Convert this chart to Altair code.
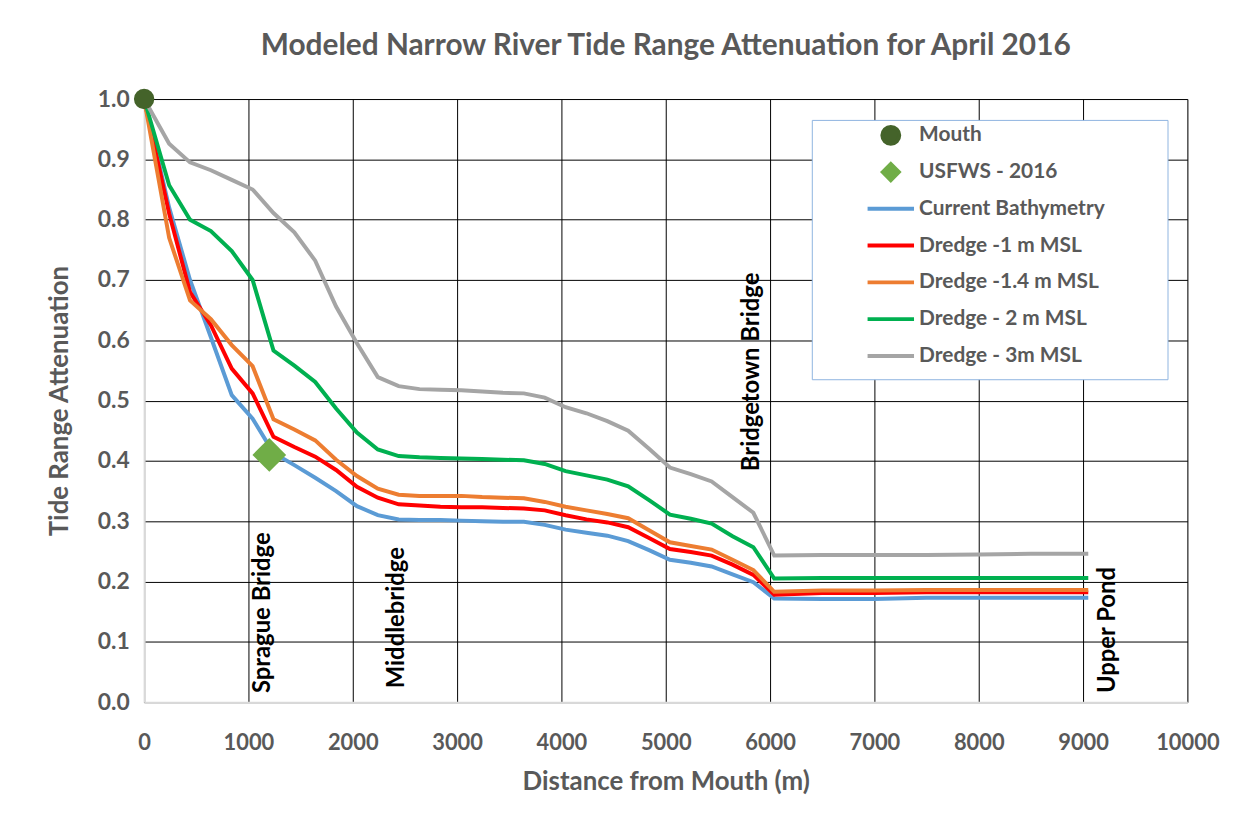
import altair as alt
import pandas as pd

# ---------------- data ----------------
distance = [0, 240, 440, 640, 840, 1040, 1240, 1440, 1640, 1840,
            2040, 2240, 2440, 2640, 2840, 3040, 3240, 3440, 3640, 3840,
            4040, 4240, 4440, 4640, 4840, 5040, 5240, 5440, 5640, 5840,
            6040, 6500, 7000, 7500, 8000, 8500, 9050]

current_bathymetry = [1.0, 0.82, 0.70, 0.605, 0.509, 0.47, 0.413, 0.393, 0.372, 0.35,
                      0.325, 0.31, 0.303, 0.302, 0.302, 0.301, 0.300, 0.299, 0.299, 0.294,
                      0.286, 0.281, 0.276, 0.267, 0.252, 0.236, 0.231, 0.225, 0.212, 0.199,
                      0.172, 0.171, 0.171, 0.173, 0.173, 0.173, 0.173]

dredge_1m = [1.0, 0.81, 0.68, 0.625, 0.553, 0.512, 0.440, 0.423, 0.407, 0.385,
             0.357, 0.339, 0.328, 0.326, 0.324, 0.323, 0.323, 0.322, 0.321, 0.318,
             0.310, 0.303, 0.298, 0.290, 0.272, 0.254, 0.249, 0.243, 0.228, 0.211,
             0.178, 0.181, 0.181, 0.182, 0.182, 0.182, 0.182]

dredge_1_4m = [1.0, 0.77, 0.666, 0.635, 0.592, 0.557, 0.469, 0.452, 0.434, 0.402,
               0.375, 0.354, 0.344, 0.342, 0.342, 0.342, 0.340, 0.339, 0.338, 0.332,
               0.324, 0.318, 0.312, 0.305, 0.285, 0.265, 0.259, 0.253, 0.236, 0.219,
               0.183, 0.185, 0.185, 0.186, 0.186, 0.186, 0.186]

dredge_2m = [1.0, 0.857, 0.80, 0.781, 0.748, 0.70, 0.583, 0.558, 0.531, 0.487,
             0.447, 0.419, 0.408, 0.406, 0.405, 0.404, 0.403, 0.402, 0.401, 0.395,
             0.383, 0.376, 0.369, 0.358, 0.335, 0.311, 0.304, 0.296, 0.275, 0.257,
             0.205, 0.206, 0.206, 0.206, 0.206, 0.206, 0.206]

dredge_3m = [1.0, 0.926, 0.895, 0.882, 0.866, 0.850, 0.811, 0.779, 0.732, 0.656,
             0.595, 0.539, 0.524, 0.519, 0.518, 0.517, 0.515, 0.513, 0.512, 0.505,
             0.489, 0.479, 0.466, 0.450, 0.420, 0.389, 0.378, 0.366, 0.340, 0.314,
             0.243, 0.244, 0.244, 0.244, 0.245, 0.246, 0.246]

line_names = ["Current Bathymetry", "Dredge -1 m MSL", "Dredge -1.4 m MSL",
              "Dredge - 2 m MSL", "Dredge - 3m MSL"]
line_values = [current_bathymetry, dredge_1m, dredge_1_4m, dredge_2m, dredge_3m]

point_names = ["Mouth", "USFWS - 2016"]
point_distance = [0, 1200]
point_value = [1.0, 0.41]

bridge_labels = ["Sprague Bridge", "Middlebridge", "Bridgetown Bridge", "Upper Pond"]
bridge_distance = [1143, 2429, 5829, 9238]
bridge_value = [0.015, 0.023, 0.383, 0.015]

x_ticks = [0, 1000, 2000, 3000, 4000, 5000, 6000, 7000, 8000, 9000, 10000]
y_ticks = [0.0, 0.1, 0.2, 0.3, 0.4, 0.5, 0.6, 0.7, 0.8, 0.9, 1.0]

# ---------------- styling ----------------
legend_order = point_names + line_names
palette = ["#44632A", "#70AD47", "#5B9BD5", "#FF0000", "#ED7D31", "#00B050", "#A5A5A5"]
stroke_palette = ["transparent", "transparent", "#5B9BD5", "#FF0000", "#ED7D31", "#00B050", "#A5A5A5"]
GUARD = "M0,-1.133L0,-1.133M0,1.133L0,1.133"   # equal row height for every legend entry
circle_path = "M1,0A1,1,0,1,1,-1,0A1,1,0,1,1,1,0Z" + GUARD
diamond_path = "M-0.95,0L0,-0.95L0.95,0L0,0.95Z" + GUARD
stroke_path = "M-2.75,0L2.75,0" + GUARD
shapes = [circle_path, diamond_path] + [stroke_path] * 5

FONT = "Lato"
GREY = "#595959"

rows = []
for name, vals in zip(line_names, line_values):
    for d, v in zip(distance, vals):
        rows.append({"series": name, "distance": d, "value": v})
df_lines = pd.DataFrame(rows)
df_points = pd.DataFrame({"series": point_names, "distance": point_distance, "value": point_value})
df_labels = pd.DataFrame({"label": bridge_labels, "distance": bridge_distance, "value": bridge_value})

xscale = alt.Scale(domain=[0, 10000], nice=False, zero=False)
yscale = alt.Scale(domain=[0, 1.0], nice=False)

x_axis = alt.Axis(values=x_ticks, format="d", grid=True, gridColor="#000000", gridWidth=1,
                  ticks=False, tickSize=0, domainColor="#D9D9D9", domainWidth=2,
                  labelFont=FONT, labelFontSize=22, labelFontWeight="bold", labelColor=GREY,
                  labelBaseline="middle", labelPadding=41, labelFlush=False, labelOverlap=False,
                  title="Distance from Mouth (m)", titleFont=FONT, titleFontSize=26,
                  titleFontWeight="bold", titleColor=GREY, titleY=80, titleBaseline="middle")
y_axis = alt.Axis(values=y_ticks, format=".1f", grid=True, gridColor="#000000", gridWidth=1,
                  ticks=False, tickSize=0, domainColor="#D9D9D9", domainWidth=2,
                  labelFont=FONT, labelFontSize=23, labelFontWeight="bold", labelColor=GREY,
                  labelPadding=15, labelFlush=False, labelOverlap=False,
                  title="Tide Range Attenuation", titleFont=FONT, titleFontSize=26,
                  titleFontWeight="bold", titleColor=GREY, titleX=-85, titleY=303.5,
                  titleAngle=270, titleBaseline="middle", titleAlign="center")

leg = alt.Legend(orient="none", legendX=672, legendY=21, title="\u00a0",
                 titleOrient="right", titlePadding=58, titleFontSize=10,
                 labelFont=FONT, labelFontSize=21, labelFontWeight="bold", labelColor=GREY,
                 labelLimit=500, symbolSize=289, symbolStrokeWidth=4, symbolOffset=64,
                 labelOffset=18, rowPadding=0, padding=5,
                 strokeColor="#8FB4E0", fillColor="white")

X = alt.X("distance:Q", scale=xscale, axis=x_axis)
Y = alt.Y("value:Q", scale=yscale, axis=y_axis)
cscale = alt.Scale(domain=legend_order, range=palette)

lines = alt.Chart(df_lines).mark_line(strokeWidth=4).encode(
    x=X, y=Y,
    color=alt.Color("series:N", scale=cscale, legend=leg),
)

legend_layer = alt.Chart(df_points).transform_filter("datum.value > 5").mark_point(
    filled=True, opacity=1, strokeWidth=4).encode(
    x=X, y=Y,
    color=alt.Color("series:N", scale=cscale, legend=leg),
    stroke=alt.Stroke("series:N", scale=alt.Scale(domain=legend_order, range=stroke_palette), legend=leg),
    shape=alt.Shape("series:N", scale=alt.Scale(domain=legend_order, range=shapes), legend=leg),
)

mouth = alt.Chart(df_points).transform_filter(alt.datum.series == "Mouth").mark_circle(
    size=420, color="#44632A", opacity=1).encode(x=X, y=Y)

usfws = alt.Chart(df_points).transform_filter(alt.datum.series == "USFWS - 2016").mark_point(
    shape="diamond", filled=True, size=1150, color="#70AD47", opacity=1).encode(x=X, y=Y)

labels = alt.Chart(df_labels).mark_text(
    angle=270, align="left", baseline="middle", font=FONT, fontSize=24,
    fontWeight="bold", color="#000000").encode(x=X, y=Y, text="label:N")

chart = alt.layer(lines, legend_layer, mouth, usfws, labels).properties(
    width=1050, height=607,
    padding={"left": 137, "top": 89, "right": 59, "bottom": 120},
    autosize=alt.AutoSizeParams(type="none"),
    title=alt.TitleParams("Modeled Narrow River Tide Range Attenuation for April 2016",
                          font=FONT, fontSize=30, fontWeight="bold", color=GREY,
                          anchor="middle", frame="group", offset=3, baseline="alphabetic"),
).configure_view(stroke=None).configure(background="white")

chart.save("out.html", embed_options={"renderer": "svg", "actions": False})
